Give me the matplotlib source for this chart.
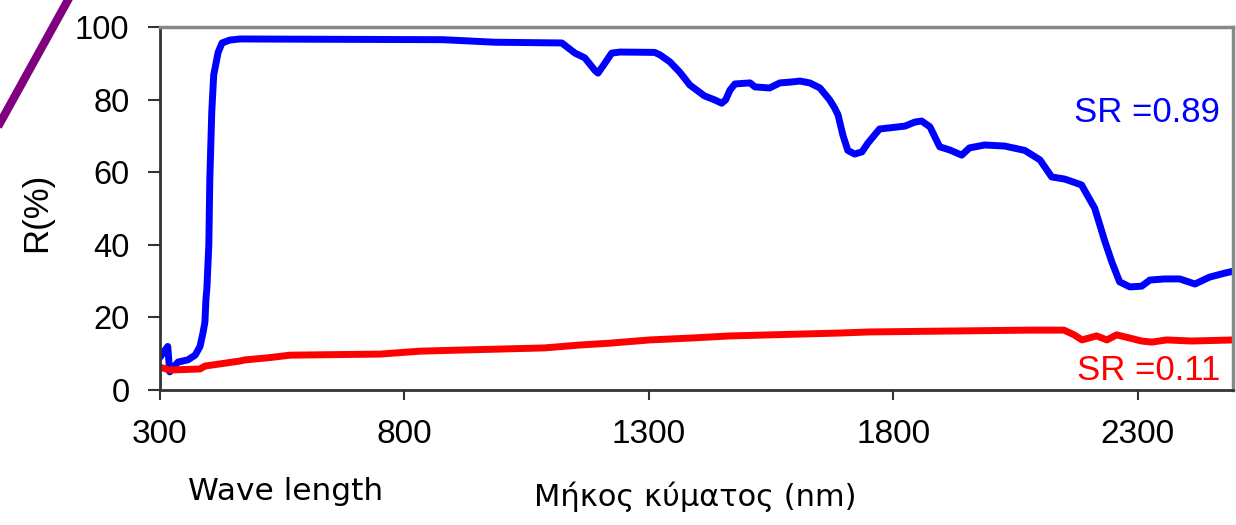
import matplotlib
matplotlib.use("Agg")
import matplotlib.pyplot as plt
from matplotlib.lines import Line2D

# blue curve (SR = 0.89)
wl_blue = [300, 316, 320, 337, 357, 372, 382, 388, 392, 394, 396, 400, 402, 406, 410,
           419, 427, 443, 464, 879, 985, 1122, 1149, 1169, 1190, 1196, 1210, 1224, 1241,
           1312, 1323, 1343, 1363, 1384, 1398, 1414, 1435, 1449, 1457, 1466, 1476, 1507,
           1517, 1547, 1568, 1588, 1609, 1629, 1650, 1670, 1680, 1687, 1697, 1707, 1721,
           1736, 1748, 1772, 1824, 1844, 1858, 1875, 1895, 1916, 1940, 1956, 1987, 2028,
           2069, 2100, 2124, 2151, 2185, 2212, 2232, 2247, 2263, 2284, 2308, 2325, 2355,
           2386, 2417, 2447, 2478, 2498]
r_blue = [9.0, 12.0, 5.0, 7.7, 8.3, 9.6, 12.0, 15.7, 18.7, 24.8, 28.0, 40.0, 58.0, 76.6, 86.8,
          93.0, 95.6, 96.4, 96.7, 96.5, 95.8, 95.6, 92.8, 91.5, 88.0, 87.3, 90.0, 92.8, 93.1,
          93.0, 92.3, 90.4, 87.6, 84.0, 82.6, 81.0, 79.9, 79.0, 79.9, 82.6, 84.3, 84.6,
          83.5, 83.2, 84.6, 84.8, 85.1, 84.6, 83.2, 79.9, 77.7, 75.8, 70.2, 66.0, 65.0,
          65.6, 68.0, 71.9, 72.7, 73.8, 74.1, 72.5, 67.0, 66.1, 64.7, 66.7, 67.5, 67.2,
          66.0, 63.4, 58.7, 58.1, 56.5, 50.1, 41.3, 35.3, 29.8, 28.4, 28.6, 30.3, 30.6,
          30.6, 29.2, 31.1, 32.2, 32.8]

# red curve (SR = 0.11)
wl_red = [300, 320, 382, 392, 423, 464, 474, 515, 535, 566, 750, 832, 913, 1087, 1159,
          1220, 1302, 1384, 1466, 1691, 1752, 2079, 2149, 2170, 2186, 2216, 2237, 2257,
          2308, 2329, 2359, 2410, 2498]
r_red = [6.3, 5.5, 5.8, 6.6, 7.2, 8.0, 8.3, 8.8, 9.1, 9.6, 9.9, 10.7, 11.0, 11.6, 12.4,
         12.9, 13.8, 14.3, 14.9, 15.7, 16.0, 16.5, 16.5, 15.2, 13.8, 14.9, 13.8, 15.2,
         13.5, 13.2, 13.8, 13.5, 13.8]

xticks = [300, 800, 1300, 1800, 2300]
yticks = [0, 20, 40, 60, 80, 100]

fig = plt.figure(figsize=(12.36, 5.25), dpi=100)
ax = fig.add_axes([0.1294, 0.2571, 0.8682, 0.6915])

ax.plot(wl_blue, r_blue, color="#0000ff", lw=5, solid_joinstyle="round", solid_capstyle="round")
ax.plot(wl_red, r_red, color="#ff0000", lw=5, solid_joinstyle="round", solid_capstyle="round")

ax.set_xlim(300, 2495)
ax.set_ylim(0, 100)
ax.set_xticks(xticks)
ax.set_yticks(yticks)
ax.tick_params(axis="both", direction="out", color="#333333", width=1.5)
ax.tick_params(axis="x", length=7, pad=14, labelsize=24)
ax.tick_params(axis="y", length=9, pad=13, labelsize=23.5)
for lab in ax.get_xticklabels() + ax.get_yticklabels():
    lab.set_family("Liberation Sans")

for side in ["left", "bottom"]:
    ax.spines[side].set_color("#333333")
    ax.spines[side].set_linewidth(2)
for side in ["top", "right"]:
    ax.spines[side].set_color("#888888")
    ax.spines[side].set_linewidth(2.5)

fig.text(37 / 1236, 1 - 212 / 525, "R(%)", rotation=90, ha="center", va="center",
         fontsize=25, family="Liberation Sans")

ax.text(0.988, 76.5, "SR =0.89", transform=ax.get_yaxis_transform(), ha="right", va="center",
        color="#0000ff", fontsize=25, family="Liberation Sans")
ax.text(0.988, 5.5, "SR =0.11", transform=ax.get_yaxis_transform(), ha="right", va="center",
        color="#ff0000", fontsize=25, family="Liberation Sans")

fig.text(286 / 1236, 1 - 491 / 525, "Wave length", ha="center", va="center",
         fontsize=22.5, family="DejaVu Sans")
fig.text(695 / 1236, 1 - 497 / 525, "Μήκος κύματος (nm)", ha="center", va="center",
         fontsize=22, family="DejaVu Sans")

# purple corner stroke
fig.add_artist(Line2D([68 / 1236, 0], [1, 1 - 123 / 525], transform=fig.transFigure,
                      color="#800080", lw=6))

fig.savefig("out.png", dpi=100)
